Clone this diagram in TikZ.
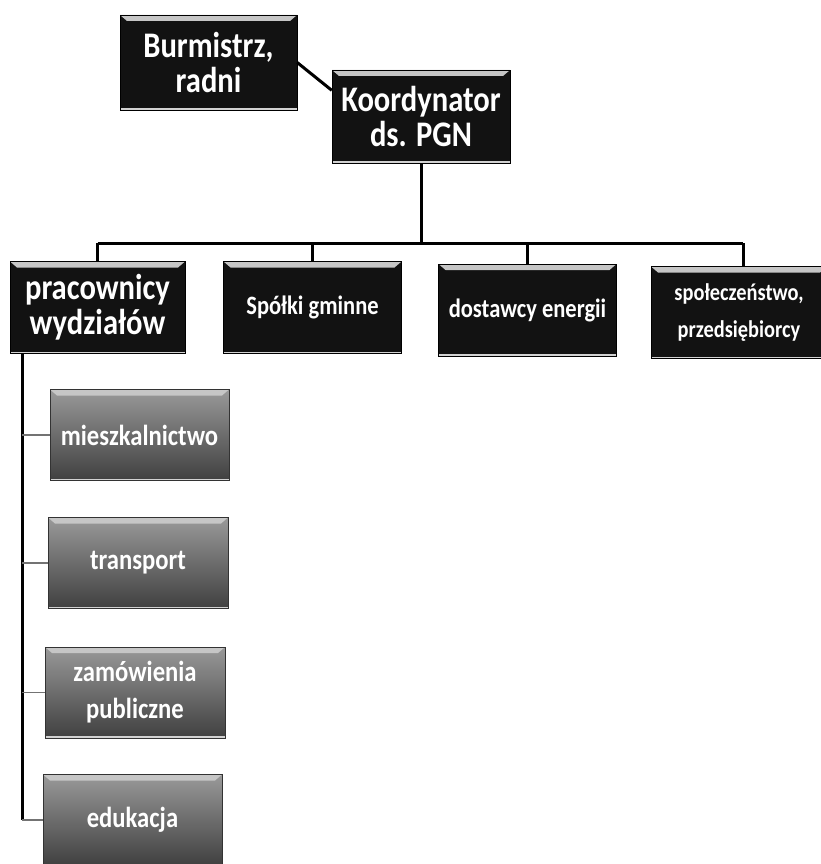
\documentclass[tikz,border=0pt]{standalone}
\usepackage{fontspec}
\setmainfont{Carlito}
\newfontfamily\boxfont{Carlito}[FakeStretch=0.85]
\usetikzlibrary{calc}
\tikzset{
  bevel/.style={path picture={
      \fill[gray!45] (path picture bounding box.north west) -- (path picture bounding box.north east)
        -- ([xshift=-7pt,yshift=-6pt]path picture bounding box.north east)
        -- ([xshift=7pt,yshift=-6pt]path picture bounding box.north west) -- cycle;
      \fill[gray!35] (path picture bounding box.south west) rectangle ([yshift=2pt]path picture bounding box.south east);
  }},
  topbox/.style={rectangle, draw=black, fill=black!93, text=white, align=center,
    minimum width=178pt, minimum height=92pt, inner sep=2pt, bevel},
  subbox/.style={rectangle, draw=black!80, top color=black!40, bottom color=black!75,
    text=white, align=center, minimum width=180pt, minimum height=91pt, inner sep=2pt, bevel},
  conn/.style={draw=black, line width=3pt},
  stub/.style={draw=black!55, line width=1.6pt},
  bigtxt/.style={font=\boxfont\bfseries\fontsize{36}{35}\selectfont},
  midtxt/.style={font=\boxfont\bfseries\fontsize{24}{37}\selectfont},
  midbtxt/.style={font=\boxfont\bfseries\fontsize{26.5}{37}\selectfont},
  subtxt/.style={font=\boxfont\bfseries\fontsize{29}{37}\selectfont},
}
\begin{document}
\begin{tikzpicture}[x=1pt,y=-1pt]
\useasboundingbox (0,0) rectangle (821,864);
\clip (0,0) rectangle (821,864);
\fill[white] (0,0) rectangle (821,864);

% top level
\node[topbox, bigtxt, minimum width=177pt, minimum height=95pt] (bur) at (208.5,62.5) {Burmistrz,\\radni};
\node[topbox, bigtxt, minimum height=93pt] (koo) at (421,116.5) {Koordynator\\ds. PGN};

% second level
\node[topbox, bigtxt, minimum width=175pt] (prac) at (97.5,307.5) {pracownicy\\wydziałów};
\node[topbox, midbtxt] (spol) at (312.5,307.5) {Spółki gminne};
\node[topbox, midbtxt] (dost) at (527.5,310) {dostawcy energii};
\node[topbox, midtxt, minimum width=176pt] (spo) at (739,312.5) {społeczeństwo,\\przedsiębiorcy};

% third level
\node[subbox, subtxt, minimum width=179pt] (mie) at (139.5,435) {mieszkalnictwo};
\node[subbox, subtxt] (tra) at (138,563) {transport};
\node[subbox, subtxt] (zam) at (135,692.5) {zamówienia\\publiczne};
\node[subbox, subtxt, minimum width=179pt] (edu) at (132.5,820) {edukacja};

% connectors
\draw[conn] (bur.east) -- ($(koo.north west)!0.22!(koo.south west)$);
\coordinate (bus) at (421,243);
\draw[conn] (koo.south) -- (bus);
\coordinate (busL) at (prac.north |- bus);
\coordinate (busR) at (743,243);
\draw[conn] (busL) -- (busR);
\draw[conn] (prac.north) -- (busL);
\draw[conn] (spol.north) -- (spol.north |- bus);
\draw[conn] (dost.north) -- (dost.north |- bus);
\draw[conn] (spo.north -| busR) -- (busR);

\coordinate (lvtop) at ([xshift=12.5pt]prac.south west);
\coordinate (lvbot) at (lvtop |- edu.west);
\draw[conn] (lvtop) -- (lvbot);
\draw[stub] (lvtop |- mie.west) -- (mie.west);
\draw[stub] (lvtop |- tra.west) -- (tra.west);
\draw[stub] (lvtop |- zam.west) -- (zam.west);
\draw[stub] (lvbot) -- (edu.west);
\end{tikzpicture}
\end{document}
